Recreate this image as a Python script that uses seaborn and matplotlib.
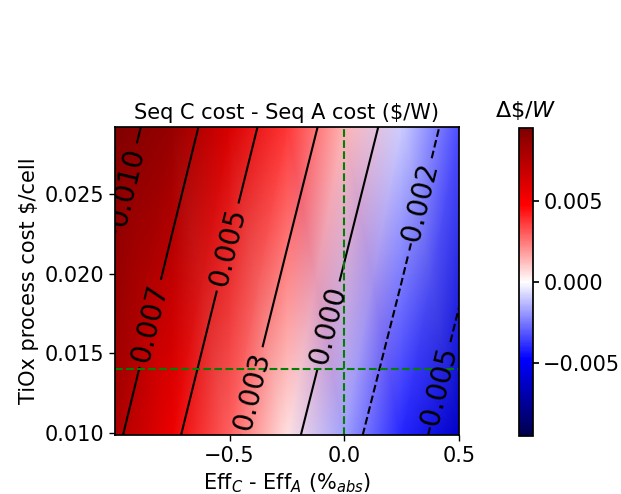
import numpy as np
import matplotlib
matplotlib.use("Agg")
import matplotlib.pyplot as plt
import seaborn as sns

# efficiency difference (%abs) and TiOx process cost ($/cell)
eff_diff = [-1.0, -0.75, -0.5, -0.25, 0.0, 0.25, 0.5]
tiox_cost = [0.00987, 0.0292]

# Seq C cost - Seq A cost ($/W)
dcost_low = [0.00785, 0.00537, 0.00296, 0.00057, -0.00178, -0.00402, -0.0062]
dcost_high = [0.01114, 0.00862, 0.00617, 0.00377, 0.0014, -0.00096, -0.0033]

levels = [-0.005, -0.0025, 0.0, 0.0025, 0.005, 0.0075, 0.01]
level_text = ['-0.005', '-0.002', '0.000', '0.003', '0.005', '0.007', '0.010']

ref_eff = 0.0
ref_cost = 0.014

sns.set_theme(style="ticks", rc={"axes.edgecolor": "black", "xtick.color": "black",
                                 "ytick.color": "black", "text.color": "black",
                                 "axes.labelcolor": "black"})
plt.rcParams['font.family'] = ['DejaVu Sans']

X, Y = np.meshgrid(eff_diff, tiox_cost)
Z = np.array([dcost_low, dcost_high])

fig = plt.figure(figsize=(6.21, 4.94), dpi=100)
ax = fig.add_axes([0.185, 0.119, 0.554, 0.624])
cax = fig.add_axes([0.836, 0.117, 0.022, 0.624])

mesh = ax.pcolormesh(X, Y, Z, shading='gouraud', cmap='seismic', vmin=-0.0095, vmax=0.0095)
cs = ax.contour(X, Y, Z, levels=levels, colors='black', linewidths=1.5)
fmt = dict(zip(cs.levels, level_text))
label_pos = [(-0.939, 0.0254), (-0.852, 0.0169), (-0.517, 0.0217), (-0.417, 0.0127),
             (-0.074, 0.0168), (0.330, 0.0242), (0.404, 0.0127)]
ax.clabel(cs, fmt=fmt, fontsize=20, manual=label_pos, inline=True)

ax.axvline(ref_eff, color='green', linestyle='--', linewidth=1.5)
ax.axhline(ref_cost, color='green', linestyle='--', linewidth=1.5)

ax.set_xlim(-1.0, 0.5)
ax.set_ylim(0.00987, 0.0292)
ax.set_xticks([-0.5, 0.0, 0.5])
ax.set_yticks([0.010, 0.015, 0.020, 0.025])
ax.tick_params(labelsize=15, length=4, width=1)
ax.set_title('Seq C cost - Seq A cost (\\$/W)', fontsize=15)
ax.set_xlabel('Eff$_C$ - Eff$_A$ (%$_{abs}$)', fontsize=15)
ax.set_ylabel('TiOx process cost \\$/cell', fontsize=15)

cb = fig.colorbar(mesh, cax=cax, ticks=[-0.005, 0.0, 0.005])
cb.ax.tick_params(labelsize=15, length=4)
cax.set_title(r'$\Delta\$/W$', fontsize=16, pad=8)

plt.savefig('out.png', dpi=100)
